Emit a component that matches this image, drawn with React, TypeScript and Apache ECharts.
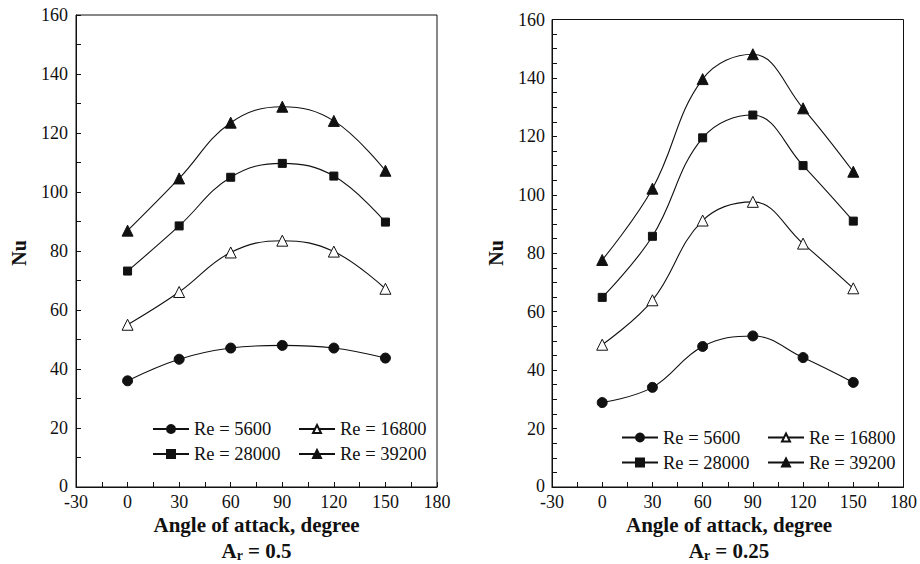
import React, { useEffect, useRef } from "react";
import * as echarts from "echarts";

const angles = [0, 30, 60, 90, 120, 150];
const seriesNames = ["Re = 5600", "Re = 16800", "Re = 28000", "Re = 39200"];

// Ar = 0.5
const leftRe5600 = [36, 43.3, 47.1, 48, 47.1, 43.7];
const leftRe16800 = [55, 66.1, 79.5, 83.5, 79.8, 67.2];
const leftRe28000 = [73.2, 88.5, 105, 109.7, 105.4, 89.8];
const leftRe39200 = [86.9, 104.6, 123.5, 128.9, 124.1, 107.2];

// Ar = 0.25
const rightRe5600 = [28.9, 34.1, 48.1, 51.7, 44.3, 35.8];
const rightRe16800 = [48.7, 63.9, 91.2, 97.6, 83.3, 68];
const rightRe28000 = [64.9, 85.8, 119.5, 127.3, 110, 91];
const rightRe39200 = [77.7, 102.1, 139.6, 148.1, 129.6, 107.9];

const xTicks = { min: -30, max: 180, interval: 30 };
const yTicks = { min: 0, max: 160, interval: 20 };

const FONT = "Liberation Serif";
const INK = "#111";

const symbols = [
  { symbol: "circle", size: 10, fill: INK },
  { symbol: "triangle", size: 11, fill: "#fff" },
  { symbol: "rect", size: 8, fill: INK },
  { symbol: "triangle", size: 11, fill: INK },
];

export default function App() {
  const ref = useRef<HTMLDivElement>(null);
  useEffect(() => {
    if (!ref.current) return;
    const chart = echarts.init(ref.current, undefined, { renderer: "svg" });

    const grids = [
      { left: 76, right: 483, top: 15, bottom: 77 },
      { left: 552, right: 14, top: 19.5, bottom: 77 },
    ];

    const mkX = (gi: number) => ({
      type: "value",
      gridIndex: gi,
      min: xTicks.min,
      max: xTicks.max,
      interval: xTicks.interval,
      axisLine: { show: true, onZero: false, lineStyle: { color: INK, width: 1 } },
      axisTick: { show: true, inside: true, length: 5, lineStyle: { color: INK } },
      minorTick: { show: true, splitNumber: 2, length: 5, lineStyle: { color: INK } },
      splitLine: { show: false },
      axisLabel: { color: INK, fontFamily: FONT, fontSize: 18, margin: 6 },
    });
    const mkY = (gi: number, minorSplit: number, margin: number) => ({
      type: "value",
      gridIndex: gi,
      min: yTicks.min,
      max: yTicks.max,
      interval: yTicks.interval,
      axisLine: { show: true, onZero: false, lineStyle: { color: INK, width: 1 } },
      axisTick: { show: true, inside: true, length: 5, lineStyle: { color: INK } },
      minorTick: { show: true, splitNumber: minorSplit, length: 5, lineStyle: { color: INK } },
      splitLine: { show: false },
      axisLabel: {
        color: INK,
        fontFamily: FONT,
        fontSize: 18,
        margin,
        formatter: (v: number) => (v === 0 ? "{z|0}" : String(v)),
        rich: { z: { fontFamily: FONT, fontSize: 18, color: INK, padding: [0, 0, 3, 0] } },
      },
    });

    const leftData = [leftRe5600, leftRe16800, leftRe28000, leftRe39200];
    const rightData = [rightRe5600, rightRe16800, rightRe28000, rightRe39200];

    const mkSeries = (vals: number[][], gi: number) =>
      vals.map((v, i) => ({
        type: "line",
        name: seriesNames[i],
        xAxisIndex: gi,
        yAxisIndex: gi,
        data: angles.map((a, k) => [a, v[k]]),
        smooth: 0.4,
        symbol: symbols[i].symbol,
        symbolSize: symbols[i].size,
        showSymbol: true,
        lineStyle: { color: INK, width: 1.1 },
        itemStyle: { color: symbols[i].fill, borderColor: INK, borderWidth: 1 },
        emphasis: { disabled: true },
        z: 3,
      }));

    const legendPos = [
      [
        [152, 419.5],
        [298, 419.5],
        [152, 444.5],
        [298, 444.5],
      ],
      [
        [621, 428],
        [767, 428],
        [621, 453],
        [767, 453],
      ],
    ];
    const legends: any[] = [];
    legendPos.forEach((pos) => {
      pos.forEach((p, i) => {
        legends.push({
          left: p[0],
          top: p[1],
          padding: 0,
          selectedMode: false,
          itemWidth: 36,
          itemHeight: 10,
          data: [seriesNames[i]],
          textStyle: { color: INK, fontFamily: FONT, fontSize: 18.5 },
        });
      });
    });

    const subtitle = (x: number, val: string) => ({
      type: "text",
      x,
      y: 551,
      style: {
        text: "{a|A}{s|r}{a| = " + val + "}",
        align: "center",
        verticalAlign: "middle",
        rich: {
          a: { fontFamily: FONT, fontWeight: "bold", fontSize: 21, fill: INK },
          s: { fontFamily: FONT, fontWeight: "bold", fontSize: 14, fill: INK, padding: [9, 0, 0, 0] },
        },
      },
    });

    const textEl = (x: number, y: number, text: string, size: number, rot = 0) => ({
      type: "text",
      x,
      y,
      rotation: rot,
      style: {
        text,
        align: "center",
        verticalAlign: "middle",
        fontFamily: FONT,
        fontWeight: "bold",
        fontSize: size,
        fill: INK,
      },
    });

    chart.setOption({
      animation: false,
      backgroundColor: "#fff",
      textStyle: { fontFamily: FONT },
      grid: grids.map((g) => ({ ...g, show: true, borderColor: INK, borderWidth: 1, backgroundColor: "transparent" })),
      xAxis: [mkX(0), mkX(1)],
      yAxis: [mkY(0, 2, 8), mkY(1, 4, 7)],
      legend: legends,
      series: [...mkSeries(leftData, 0), ...mkSeries(rightData, 1)],
      graphic: [
        textEl(19, 253, "Nu", 20, Math.PI / 2),
        textEl(496, 253, "Nu", 20, Math.PI / 2),
        textEl(256.5, 525, "Angle of attack, degree", 21),
        textEl(729, 525, "Angle of attack, degree", 21),
        subtitle(256.5, "0.5"),
        subtitle(729, "0.25"),
      ],
    });
    return () => chart.dispose();
  }, []);
  return <div ref={ref} style={{ width: 920, height: 564, position: "absolute", left: 0, top: 0 }} />;
}
